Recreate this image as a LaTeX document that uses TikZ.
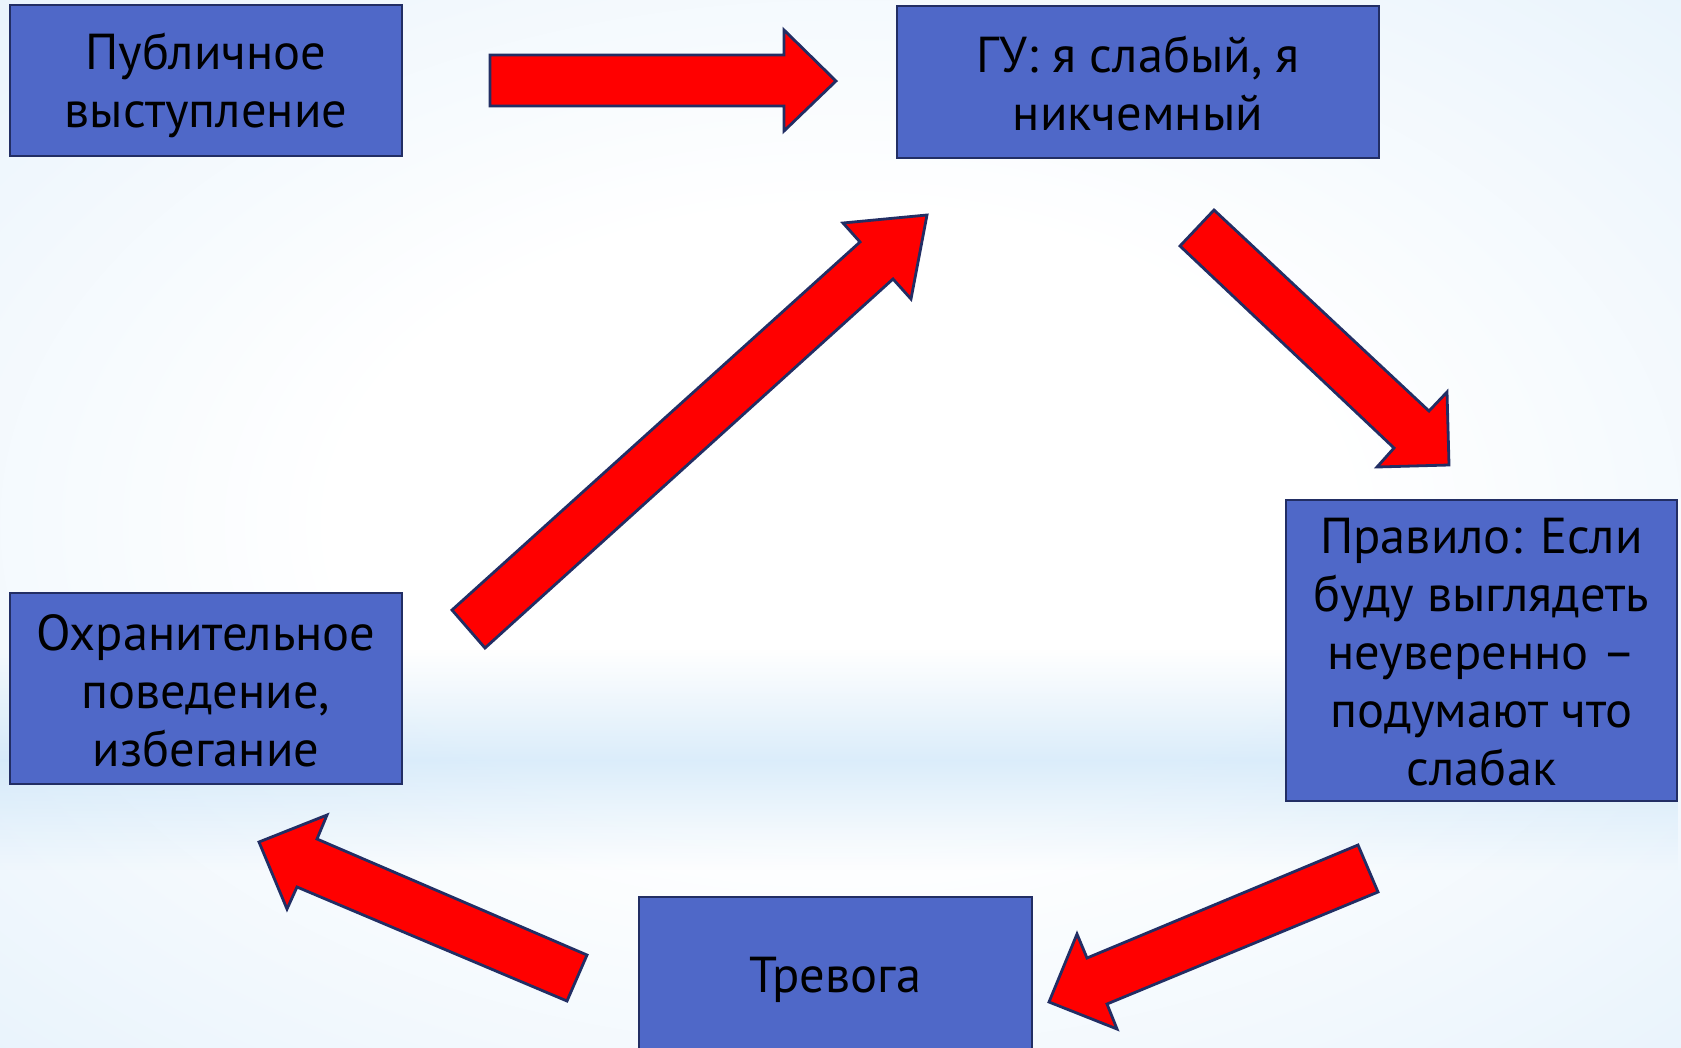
\documentclass[tikz,border=0pt]{standalone}
\usepackage{fontspec}
\setmainfont{PT Sans}
\usetikzlibrary{fadings}
\definecolor{boxfill}{RGB}{79,104,200}
\definecolor{boxline}{RGB}{34,46,100}
\definecolor{arrowline}{RGB}{34,46,100}
\definecolor{bgmid}{RGB}{234,244,252}
\definecolor{bgedge}{RGB}{190,222,246}
\pgfdeclareradialshading{bgshade}{\pgfpoint{0bp}{0bp}}{color(0bp)=(white); color(15bp)=(white); color(35bp)=(bgmid); color(55bp)=(bgedge); color(75bp)=(bgedge)}
\tikzfading[name=bandfade, top color=transparent!100, bottom color=transparent!100, middle color=transparent!0]
\tikzset{
  box/.style={draw=boxline, fill=boxfill, line width=2.8pt, inner sep=0pt},
  boxtext/.style={inner sep=0pt, align=center, font=\fontsize{50.5}{58}\selectfont, text=black},
  blockarrow/.style={draw=arrowline, fill=red, line width=2.8pt, line join=miter},
}
\begin{document}
\begin{tikzpicture}[x=1pt,y=-1pt]
\useasboundingbox (0,0) rectangle (1681,1047);
\clip (0,0) rectangle (1681,1047);
\shade[shading=bgshade] (0,0) rectangle (1681,1047);
\fill[bgedge, opacity=0.55, path fading=bandfade] (0,650) rectangle (1681,870);

% boxes
\node[box, minimum width=392pt, minimum height=151pt] (pub) at (206,80.5) {};
\node[boxtext] (pubt) at ([yshift=-5pt]pub.center) {Публичное\\выступление};
\node[box, minimum width=482pt, minimum height=152pt] (gu) at (1138,82) {};
\node[boxtext] (gut) at ([yshift=-1pt]gu.center) {ГУ: я слабый, я\\никчемный};
\node[box, minimum width=391pt, minimum height=301pt] (rule) at (1481.5,650.5) {};
\node[boxtext] (rulet) at ([yshift=-2pt]rule.center) {Правило: Если\\буду выглядеть\\неуверенно –\\подумают что\\слабак};
\node[box, minimum width=393pt, minimum height=159pt] (anx) at (835.5,976.5) {};
\node[boxtext] (anxt) at ([yshift=-3pt]anx.center) {Тревога};
\node[box, minimum width=392pt, minimum height=191pt] (safe) at (206,688.5) {};
\node[boxtext] (safet) at ([yshift=-2pt]safe.center) {Охранительное\\поведение,\\избегание};

% block arrows
\draw[blockarrow] (490,55) -- (784,55) -- (784,30) -- (836,81) -- (784,131) -- (784,106) -- (490,106) -- cycle;
\draw[blockarrow] (1214,210) -- (1429,411) -- (1447,392) -- (1449,465) -- (1377,467) -- (1394,448) -- (1180,246) -- cycle;
\draw[blockarrow] (1049,1002) -- (1077,934) -- (1087,958) -- (1358,845) -- (1378,892) -- (1107,1004) -- (1117,1029) -- cycle;
\draw[blockarrow] (259,842) -- (327,815) -- (317,839) -- (587,955) -- (567,1001) -- (297,887) -- (287,909) -- cycle;
\draw[blockarrow] (927,215) -- (843,223) -- (860,242) -- (452,610) -- (485,648) -- (893,279) -- (911,299) -- cycle;
\end{tikzpicture}
\end{document}
